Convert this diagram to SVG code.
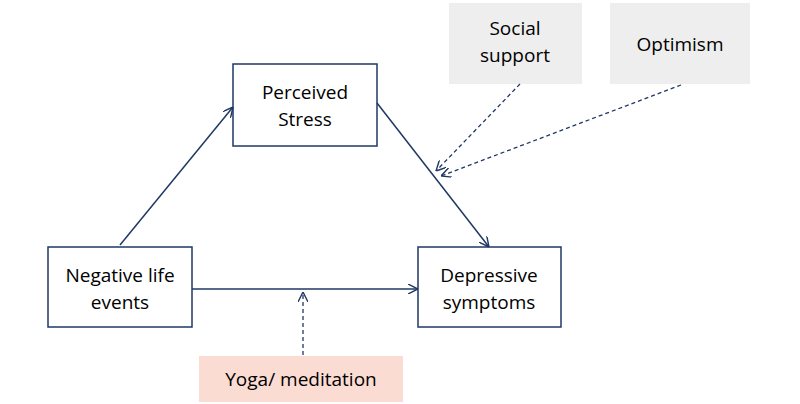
<svg xmlns="http://www.w3.org/2000/svg" width="800" height="404" viewBox="0 0 800 404">
<defs>
<marker id="ah" viewBox="0 0 10 10" refX="10" refY="5" markerWidth="10" markerHeight="10" markerUnits="userSpaceOnUse" orient="auto">
<path d="M0,0 L10,5 L0,10" fill="none" stroke="#1f3864" stroke-width="1.4"/>
</marker>
<style>
.box{fill:#fff;stroke:#1f3864;stroke-width:1.5}
.t{font-family:"Open Sans","Liberation Sans",sans-serif;font-size:19px;fill:#000;text-anchor:middle}
.c{fill:none;stroke:#1f3864;stroke-width:1.5;marker-end:url(#ah)}
.d{stroke-dasharray:4,3;stroke-width:1.3}
</style>
</defs>
<rect width="800" height="404" fill="#fff"/>
<g id="stress"><rect class="box" x="233" y="64" width="144" height="82"/><text class="t" x="305" y="99">Perceived</text><text class="t" x="305" y="126">Stress</text></g>
<g id="negative"><rect class="box" x="48" y="247" width="144" height="80"/><text class="t" x="120" y="282">Negative life</text><text class="t" x="120" y="309">events</text></g>
<g id="depressive"><rect class="box" x="418" y="247" width="143" height="80"/><text class="t" x="489" y="282">Depressive</text><text class="t" x="489" y="309">symptoms</text></g>
<g id="social"><rect x="449" y="3" width="133" height="81" fill="#eeeeee"/><text class="t" x="515" y="35">Social</text><text class="t" x="515" y="62">support</text></g>
<g id="optimism"><rect x="610" y="3" width="140" height="81" fill="#eeeeee"/><text class="t" x="680" y="51">Optimism</text></g>
<g id="yoga"><rect x="199" y="356" width="204" height="46" fill="#fbdcd3"/><text class="t" x="301" y="386">Yoga/ meditation</text></g>
<g id="connectors">
<line class="c" x1="120" y1="245" x2="233" y2="107"/>
<line class="c" x1="377" y1="103" x2="489" y2="247"/>
<line class="c" x1="192" y1="289" x2="418" y2="289"/>
<line class="c d" x1="303" y1="355" x2="303" y2="292"/>
<line class="c d" x1="520" y1="84" x2="436" y2="171"/>
<line class="c d" x1="681" y1="85" x2="441" y2="176"/>
</g>
</svg>
